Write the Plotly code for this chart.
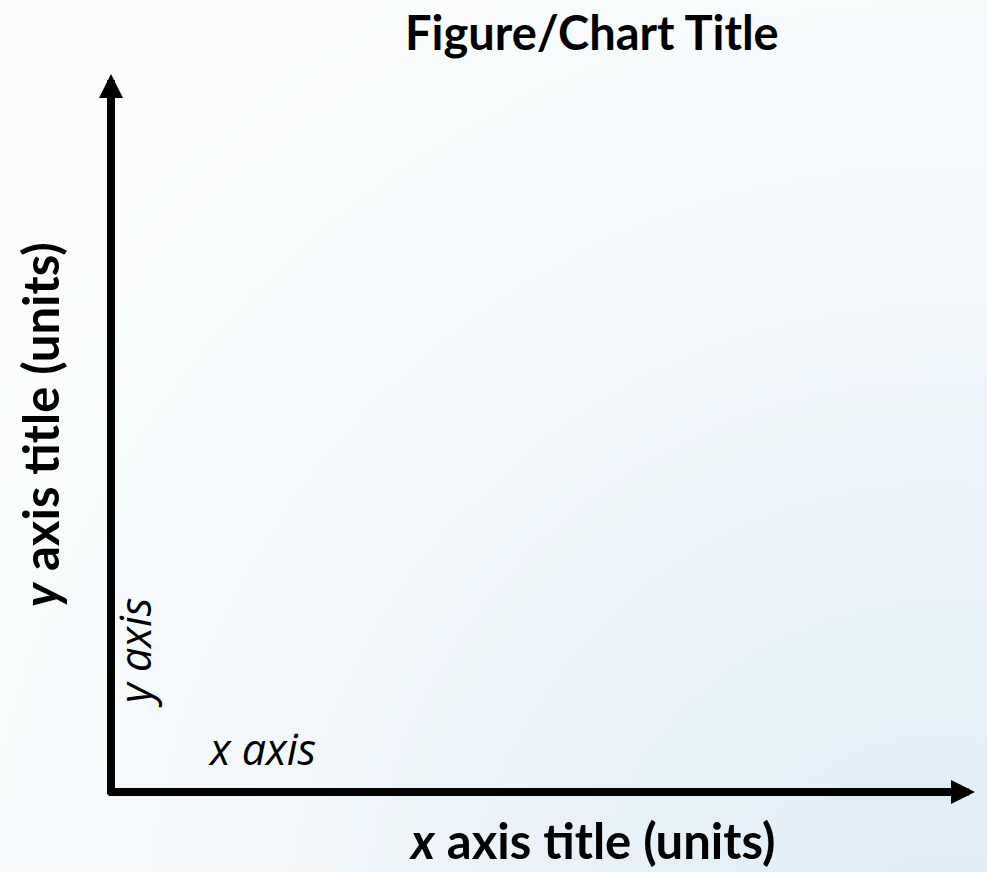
"""
Blank axes template: title, axis titles, arrowed axes
"""

import base64
import plotly.graph_objects as go

# texts
title_text = 'Figure/Chart Title'
x_title = 'x axis title (units)'
y_title = 'y axis title (units)'
axis_labels = ['x axis', 'y axis']

W, H = 987, 872
L, R, T, B = 111, 12, 74, 80
pw, ph = W - L - R, H - T - B


def px(x):
    return (x - L) / pw


def py(y):
    return (H - B - y) / ph


#> background gradient (svg image under everything)
svg = (
    f"<svg xmlns='http://www.w3.org/2000/svg' width='{W}' height='{H}'>"
    "<defs><radialGradient id='g' cx='940' cy='960' r='1100' gradientUnits='userSpaceOnUse'>"
    "<stop offset='0' stop-color='#dfedf6'/>"
    "<stop offset='0.3' stop-color='#e7f1f8'/>"
    "<stop offset='0.65' stop-color='#f3f8fb'/>"
    "<stop offset='1' stop-color='#fbfdfd'/>"
    "</radialGradient></defs>"
    f"<rect width='{W}' height='{H}' fill='url(#g)'/></svg>"
)
bg = 'data:image/svg+xml;base64,' + base64.b64encode(svg.encode()).decode()

fig = go.Figure()

fig.add_layout_image(
    source=bg, xref='paper', yref='paper',
    x=px(0), y=py(0), sizex=W / pw, sizey=H / ph,
    xanchor='left', yanchor='top', sizing='stretch', layer='below',
)

bold = dict(family='Lato, sans-serif', size=47, color='black', weight='bold')
bold_ax = dict(bold, size=49)
ital = dict(family='Open Sans, sans-serif', size=43, color='black', style='italic')

#> axes with arrow heads
fig.add_annotation(x=1, y=0, xref='paper', yref='paper', text='',
                   showarrow=True, ax=-(pw + 4), ay=0, axref='pixel', ayref='pixel',
                   arrowhead=2, arrowsize=0.6, arrowwidth=8, arrowcolor='black', standoff=0)
fig.add_annotation(x=0, y=1, xref='paper', yref='paper', text='',
                   showarrow=True, ax=0, ay=ph + 4, axref='pixel', ayref='pixel',
                   arrowhead=2, arrowsize=0.6, arrowwidth=8, arrowcolor='black', standoff=0)

txt = dict(xref='paper', yref='paper', xanchor='center', yanchor='middle', showarrow=False)

#> titles
fig.add_annotation(x=px(592), y=py(32), text='<b>' + title_text + '</b>', font=bold, **txt)
fig.add_annotation(x=px(592), y=py(840), text='<b><i>x</i>' + x_title[1:] + '</b>',
                   font=bold_ax, **txt)
fig.add_annotation(x=px(40), y=py(425), textangle=-90,
                   text='<b><i>y</i>' + y_title[1:] + '</b>', font=bold_ax, **txt)

#> labels inside the axes
fig.add_annotation(x=px(262), y=py(748), text=axis_labels[0], font=ital, **txt)
fig.add_annotation(x=px(134), y=py(653), textangle=-90, text=axis_labels[1], font=ital, **txt)

fig.update_xaxes(visible=False, range=[0, 1], fixedrange=True)
fig.update_yaxes(visible=False, range=[0, 1], fixedrange=True)
fig.update_layout(
    width=W, height=H,
    margin=dict(l=L, r=R, t=T, b=B),
    paper_bgcolor='white', plot_bgcolor='rgba(0,0,0,0)',
    showlegend=False,
)

fig.write_html('out.html', config={'displayModeBar': False},
               post_script="document.body.style.margin='0';")
